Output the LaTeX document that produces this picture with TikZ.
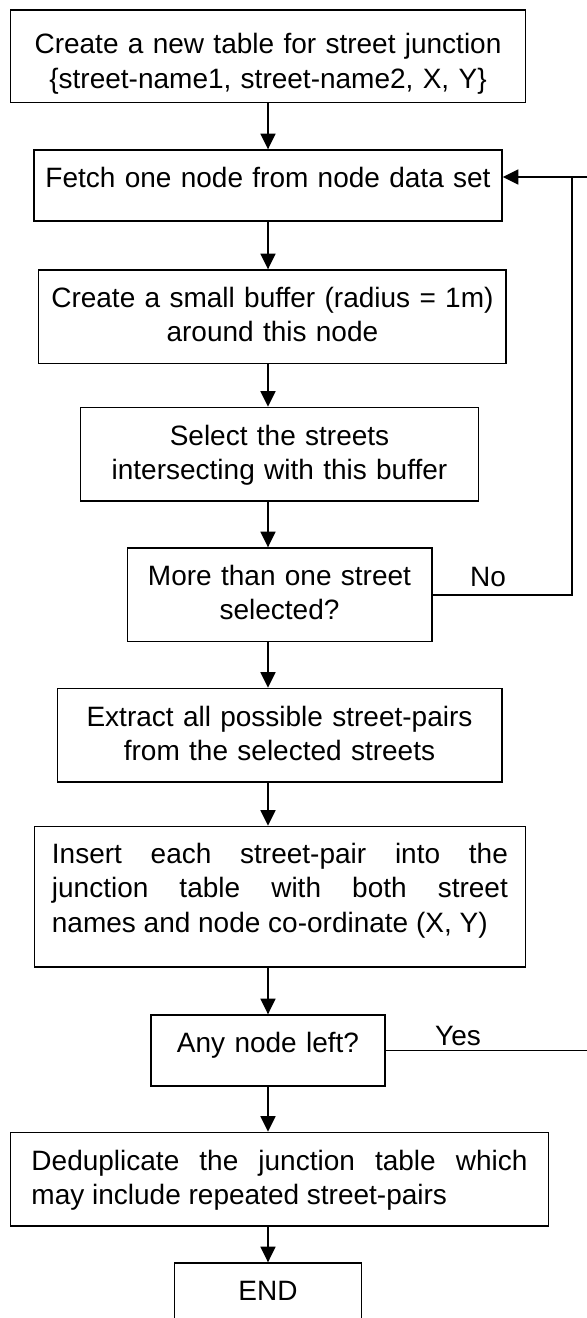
\documentclass[tikz,border=0pt]{standalone}
\usepackage{fontspec}
\setmainfont{Liberation Sans}
\usetikzlibrary{arrows.meta}

% no hyphenation, loose justified lines are fine
\tolerance=10000
\hyphenpenalty=10000
\exhyphenpenalty=10000

% strut above the first line and below the last line of a box
\newcommand{\boxtext}[3]{\rule{0pt}{#1}#3\rule[-#2]{0pt}{#2}}

\tikzset{
    stepbox/.style={draw, line width=0.8pt, anchor=north, inner xsep=0pt, inner ysep=0pt},
    flow/.style={line width=0.8pt, -{Triangle[length=7.8pt,width=7.5pt]}},
    link/.style={line width=0.8pt}
}

\begin{document}
\begin{tikzpicture}[x=0.5pt, y=-0.5pt, font=\fontsize{14pt}{17.15pt}\selectfont]
    \useasboundingbox (0,0) rectangle (587,1318);
    \clip (0,0) rectangle (587,1318);

    % Steps of the procedure
    \node[stepbox, minimum width=257.4pt, text width=250pt, align=center] (create) at (268,9.3)
        {\boxtext{21.85pt}{7.2pt}{Create a new table for street junction\\ \{street-name1, street-name2, X, Y\}}};
    \node[stepbox, minimum width=234pt, text width=230pt, align=center] (fetch) at (268,149.3)
        {\boxtext{18.75pt}{16.6pt}{Fetch one node from node data set}};
    \node[stepbox, minimum width=233.8pt, text width=228pt, align=center] (buffer) at (272.4,269.3)
        {\boxtext{18.75pt}{10.75pt}{Create a small buffer (radius = 1m)\\ around this node}};
    \node[stepbox, minimum width=199pt, text width=190pt, align=center] (select) at (279.5,406.7)
        {\boxtext{18.75pt}{10.75pt}{Select the streets\\ intersecting with this buffer}};
    \node[stepbox, minimum width=152.2pt, text width=148pt, align=center] (check) at (279.5,547.3)
        {\boxtext{18.75pt}{10.75pt}{More than one street\\ selected?}};
    \node[stepbox, minimum width=222.2pt, text width=216pt, align=center] (extract) at (279.5,687.7)
        {\boxtext{18.75pt}{10.75pt}{Extract all possible street-pairs\\ from the selected streets}};
    \node[stepbox, minimum width=245.5pt, text width=228pt, align=justify] (insert) at (279.9,825.7)
        {\boxtext{18.5pt}{17.35pt}{Insert each street-pair into the\linebreak junction table with both street\linebreak names and node co-ordinate (X,~Y)}};
    \node[stepbox, minimum width=117pt, text width=110pt, align=center] (left) at (268,1014.3)
        {\boxtext{18.75pt}{16.6pt}{Any node left?}};
    \node[stepbox, minimum width=269pt, text width=248pt, align=justify] (dedup) at (279.5,1131.7)
        {\boxtext{18.75pt}{10.75pt}{Deduplicate the junction table which\linebreak may include repeated street-pairs}};
    \node[stepbox, minimum width=93.65pt, text width=85pt, align=center] (stop) at (268,1262.3)
        {\boxtext{18.75pt}{16.6pt}{END}};

    % Helper points
    \coordinate (spine) at (268,0);
    \coordinate (edge) at (587,177);
    \coordinate (rail) at (572,177);

    % Main flow
    \foreach \a/\b in {create/fetch, fetch/buffer, buffer/select, select/check, check/extract,
                       extract/insert, insert/left, left/dedup, dedup/stop}
        \draw[flow] (\a.south -| spine) -- (\b.north -| spine);

    % Loops back to the fetch step
    \draw[link] (check.east) -- (check.east -| rail) -- (rail);
    \draw[flow] (edge) -- (edge -| fetch.east);
    \draw[link] (left.east) -- (left.east -| edge);

    \node (no) at (488,577) {No};
    \node (yes) at (458,1036) {Yes};
\end{tikzpicture}
\end{document}
